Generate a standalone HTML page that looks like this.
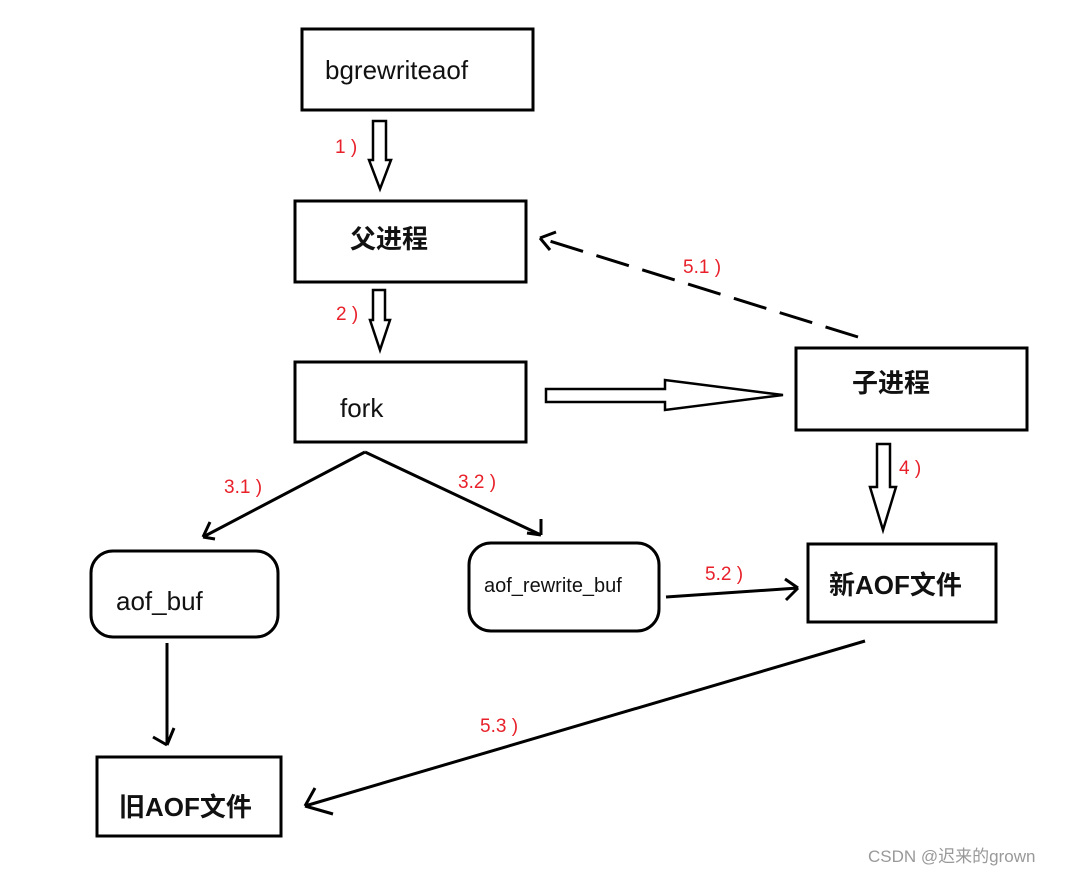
<!DOCTYPE html>
<html><head><meta charset="utf-8"><style>
html,body{margin:0;padding:0;background:#fff;width:1065px;height:871px;overflow:hidden}
text{font-family:"Liberation Sans","Noto Sans CJK SC",sans-serif}
.t{font-size:26px;fill:#111}
.b{font-weight:bold}
.r{font-size:19px;fill:#e8202a}
</style></head><body>
<svg width="1065" height="871" viewBox="0 0 1065 871" xmlns="http://www.w3.org/2000/svg">
<g fill="none" stroke="#000" stroke-width="3">
<rect x="302" y="29" width="231" height="81"/>
<rect x="295" y="201" width="231" height="81"/>
<rect x="295" y="362" width="231" height="80"/>
<rect x="796" y="348" width="231" height="82"/>
<rect x="808" y="544" width="188" height="78"/>
<rect x="97" y="757" width="184" height="79"/>
<rect x="91" y="551" width="187" height="86" rx="22"/>
<rect x="469" y="543" width="190" height="88" rx="22"/>
<!-- hollow arrows -->
<path d="M373,121 H386 V160 H391 L380,189 L369,160 H373 Z" stroke-width="2.5"/>
<path d="M373,290 H385 V320 H390 L380,350 L370,320 H373 Z" stroke-width="2.5"/>
<path d="M546,389 H665 V380 L783,395 L665,410 V402 H546 Z" stroke-width="2.5"/>
<path d="M877,444 H890 V487 H896 L883,530 L870,487 H877 Z" stroke-width="2.5"/>
<!-- lines -->
<path d="M365,452 L203,537 M203,537 L210,522 M203,537 L215,539"/>
<path d="M365,452 L541,535 M541,535 L541,519 M541,535 L527,533"/>
<path d="M858,337 L540,238" stroke-dasharray="34,14"/>
<path d="M540,238 L556,232 M540,238 L550,250"/>
<path d="M666,597 L798,588 M798,588 L785,579 M798,588 L786,600"/>
<path d="M167,643 L167,745 M167,745 L153,737 M167,745 L174,728"/>
<path d="M865,641 L305,806 M305,806 L315,788 M305,806 L333,814"/>
</g>
<text class="t" x="325" y="79">bgrewriteaof</text>
<text class="t b" x="350" y="248">父进程</text>
<text class="t" x="340" y="417">fork</text>
<text class="t b" x="852" y="392">子进程</text>
<text class="t b" x="829" y="594">新AOF文件</text>
<text class="t b" x="119" y="816">旧AOF文件</text>
<text class="t" x="116" y="610">aof_buf</text>
<text x="484" y="592" style="font-size:20px;fill:#111">aof_rewrite_buf</text>
<text class="r" x="335" y="153">1 )</text>
<text class="r" x="336" y="320">2 )</text>
<text class="r" x="683" y="273">5.1 )</text>
<text class="r" x="224" y="493">3.1 )</text>
<text class="r" x="458" y="488">3.2 )</text>
<text class="r" x="899" y="474">4 )</text>
<text class="r" x="705" y="580">5.2 )</text>
<text class="r" x="480" y="732">5.3 )</text>
<text x="868" y="862" style="font-size:17px;fill:#999">CSDN @迟来的grown</text>
</svg>
</body></html>
